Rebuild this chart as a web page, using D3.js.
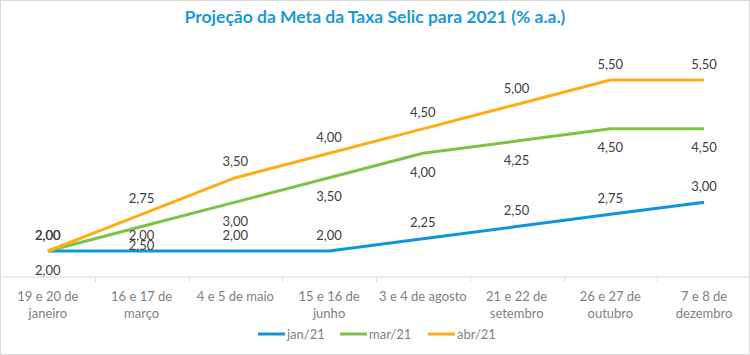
<!DOCTYPE html>
<html><head><meta charset="utf-8">
<script src="https://cdn.jsdelivr.net/npm/d3@7"></script>
<style>body{margin:0;background:#fff}svg{display:block}</style>
</head><body>
<svg id="c" width="750" height="355"></svg>
<script>
const categories = ["19 e 20 de\njaneiro","16 e 17 de\nmarço","4 e 5 de maio","15 e 16 de\njunho","3 e 4 de agosto","21 e 22 de\nsetembro","26 e 27 de\noutubro","7 e 8 de\ndezembro"];
const seriesNames = ["jan/21","mar/21","abr/21"];
const jan21 = [2.00,2.00,2.00,2.00,2.25,2.50,2.75,3.00];
const mar21 = [2.00,2.50,3.00,3.50,4.00,4.25,4.50,4.50];
const abr21 = [2.00,2.75,3.50,4.00,4.50,5.00,5.50,5.50];
const labelPos = ["above","below","above"];
const colors = ["#0f95da","#7dc242","#fdad17"];
const title = "Projeção da Meta da Taxa Selic para 2021 (% a.a.)";

const svg = d3.select("#c");
const font = "Lato, 'Open Sans', sans-serif";
svg.append("rect").attr("x",0.5).attr("y",0.5).attr("width",749).attr("height",354)
  .attr("fill","#fff").attr("stroke","#d9d9d9");

svg.append("text").attr("x",375).attr("y",23).attr("text-anchor","middle")
  .attr("font-family",font).attr("font-weight","bold").attr("font-size",17.5)
  .attr("fill","#1a9ad6").text(title);

const x = d3.scaleBand().domain(d3.range(categories.length)).range([1,751]).padding(0);
const y = d3.scaleLinear().domain([2,5.5]).range([251,80]);

// axis
const axisY = 276.5;
const ax = svg.append("g").attr("transform",`translate(0,${axisY})`)
  .call(d3.axisBottom(x).tickSize(0).tickFormat(""));
ax.select(".domain").attr("stroke","#d9d9d9");
x.domain().forEach(i=>{
  const xx = Math.round(x(i))+0.5;
  if(i>0) svg.append("line").attr("x1",xx).attr("x2",xx).attr("y1",axisY).attr("y2",axisY+5).attr("stroke","#d9d9d9");
  const lines = categories[i].split("\n");
  const t = svg.append("text").attr("x",x(i)+x.bandwidth()/2).attr("text-anchor","middle")
    .attr("font-family",font).attr("font-size",13).attr("fill","#7f7f7f");
  lines.forEach((l,k)=>t.append("tspan").attr("x",x(i)+x.bandwidth()/2).attr("y",300.5+k*17).text(l));
});

const all = [jan21,mar21,abr21];
const line = d3.line().x((d,i)=>x(i)+x.bandwidth()/2).y(d=>y(d));
all.forEach((s,k)=>{
  svg.append("path").attr("d",line(s)).attr("fill","none").attr("stroke",colors[k])
    .attr("stroke-width",3).attr("stroke-linejoin","round");
});
const fmt = v=>d3.format(".2f")(v).replace(".",",");
all.forEach((s,k)=>{
  s.forEach((v,i)=>{
    svg.append("text").attr("x",x(i)+x.bandwidth()/2)
      .attr("y",labelPos[k]==="above"? y(v)-16 : y(v)+19)
      .attr("dy","0.35em").attr("text-anchor","middle")
      .attr("font-family",font).attr("font-size",13).attr("fill","#404040").text(fmt(v));
  });
});

// legend
const legX = [258,340,428];
seriesNames.forEach((n,k)=>{
  svg.append("line").attr("x1",legX[k]).attr("x2",legX[k]+27).attr("y1",334).attr("y2",334)
    .attr("stroke",colors[k]).attr("stroke-width",3);
  svg.append("text").attr("x",legX[k]+29).attr("y",334).attr("dy","0.35em")
    .attr("font-family",font).attr("font-size",13).attr("fill","#7f7f7f").text(n);
});
</script>
</body></html>
